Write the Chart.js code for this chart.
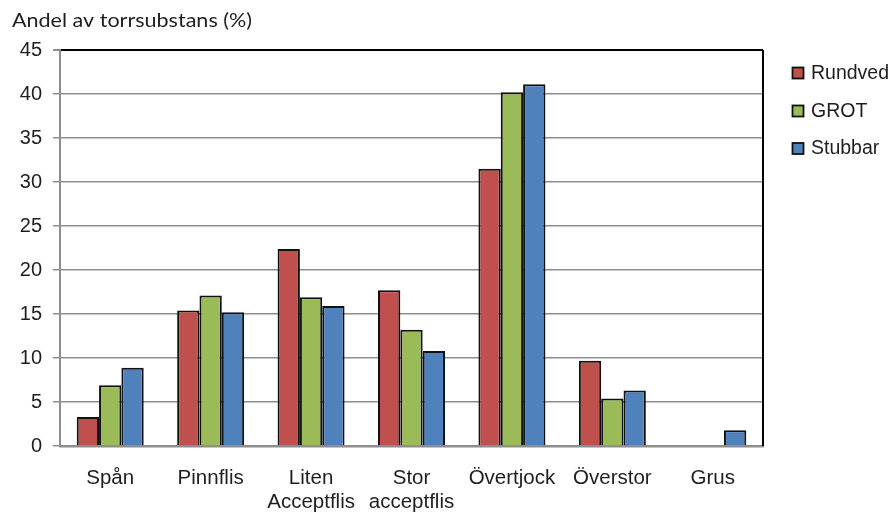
<!DOCTYPE html>
<html>
<head>
<meta charset="utf-8">
<script src="https://cdn.jsdelivr.net/npm/chart.js@4.4.1/dist/chart.umd.min.js"></script>
<style>
  html, body { margin: 0; padding: 0; background: #ffffff; }
  #wrap { width: 893px; height: 514px; position: relative; }
</style>
</head>
<body>
<div id="wrap"><canvas id="chart" width="893" height="514"></canvas></div>
<script>
// Fraktionsfördelning per sortiment
const categories = ['Spån', 'Pinnflis', ['Liten', 'Acceptflis'], ['Stor', 'acceptflis'], 'Övertjock', 'Överstor', 'Grus'];
const seriesNames = ['Rundved', 'GROT', 'Stubbar'];
const rundved = [3.3, 15.4, 22.4, 17.7, 31.5, 9.7, 0];
const grot    = [6.9, 17.1, 16.9, 13.2, 40.2, 5.4, 0];
const stubbar = [8.9, 15.2, 15.9, 10.8, 41.1, 6.3, 1.8];
const yTicks = [0, 5, 10, 15, 20, 25, 30, 35, 40, 45];
const yTitle = 'Andel av torrsubstans (%)';

const colors = ['#C0504D', '#9BBB59', '#4F81BD'];
const textColor = '#1e1e1e';
const gridGray = '#8e8e8e';
const sans = '"Liberation Sans", Arial, sans-serif';

// Title above the value axis, and the legend at the right
const decorations = {
  id: 'decorations',
  afterDraw(chart) {
    const ctx = chart.ctx;
    const area = chart.chartArea;
    ctx.save();

    // right frame of the plot area
    ctx.strokeStyle = '#000000';
    ctx.lineWidth = 2;
    ctx.beginPath();
    ctx.moveTo(area.right, area.top);
    ctx.lineTo(area.right, area.bottom);
    ctx.stroke();

    // axis title, set in a narrow width
    ctx.fillStyle = textColor;
    ctx.textBaseline = 'alphabetic';
    ctx.textAlign = 'left';
    ctx.font = '19px Lato, "Open Sans", sans-serif';
    const w = ctx.measureText(yTitle).width;
    const target = 240;
    ctx.save();
    ctx.translate(12, 27);
    ctx.scale(target / w, 1);
    ctx.fillText(yTitle, 0, 0);
    ctx.restore();

    // legend
    const rowY = [73, 111, 148.5];
    ctx.textBaseline = 'middle';
    ctx.font = '19.5px ' + sans;
    chart.data.datasets.forEach((ds, i) => {
      const y = rowY[i];
      ctx.fillStyle = ds.backgroundColor;
      ctx.fillRect(792.5, y - 5.5, 11, 11);
      ctx.strokeStyle = '#111111';
      ctx.lineWidth = 1.8;
      ctx.strokeRect(792.5, y - 5.5, 11, 11);
      ctx.fillStyle = textColor;
      ctx.fillText(ds.label, 811, y + 0.5);
    });
    ctx.restore();
  }
};

new Chart(document.getElementById('chart'), {
  type: 'bar',
  data: {
    labels: categories,
    datasets: [rundved, grot, stubbar].map((vals, i) => ({
      label: seriesNames[i],
      data: vals,
      backgroundColor: colors[i],
      borderColor: '#111111',
      borderWidth: 2,
      borderSkipped: 'bottom',
      categoryPercentage: 0.667,
      barPercentage: 1.0
    }))
  },
  options: {
    responsive: false,
    animation: false,
    devicePixelRatio: 1,
    layout: { padding: { left: 0, right: 130, top: 50, bottom: 0 } },
    plugins: {
      legend: { display: false },
      title: { display: false },
      tooltip: { enabled: false }
    },
    scales: {
      x: {
        afterFit(scale) { scale.height = 68; },
        grid: { display: false, drawTicks: false },
        border: { display: true, color: gridGray, width: 2.5 },
        ticks: {
          color: textColor,
          font: { family: sans, size: 20.5, lineHeight: 1.15 },
          padding: 21,
          maxRotation: 0,
          autoSkip: false
        }
      },
      y: {
        min: 0,
        max: 45,
        afterFit(scale) { scale.width = 60; },
        afterBuildTicks(scale) { scale.ticks = yTicks.map(v => ({ value: v })); },
        grid: {
          color: (c) => (c.tick && c.tick.value === 45 ? '#000000' : gridGray),
          lineWidth: (c) => (c.tick && c.tick.value === 45 ? 2 : 1.5),
          tickColor: gridGray,
          tickLength: 7,
          drawTicks: true
        },
        border: { display: true, color: gridGray, width: 2 },
        ticks: {
          color: textColor,
          font: { family: sans, size: 20 },
          padding: 11
        }
      }
    }
  },
  plugins: [decorations]
});
</script>
</body>
</html>
